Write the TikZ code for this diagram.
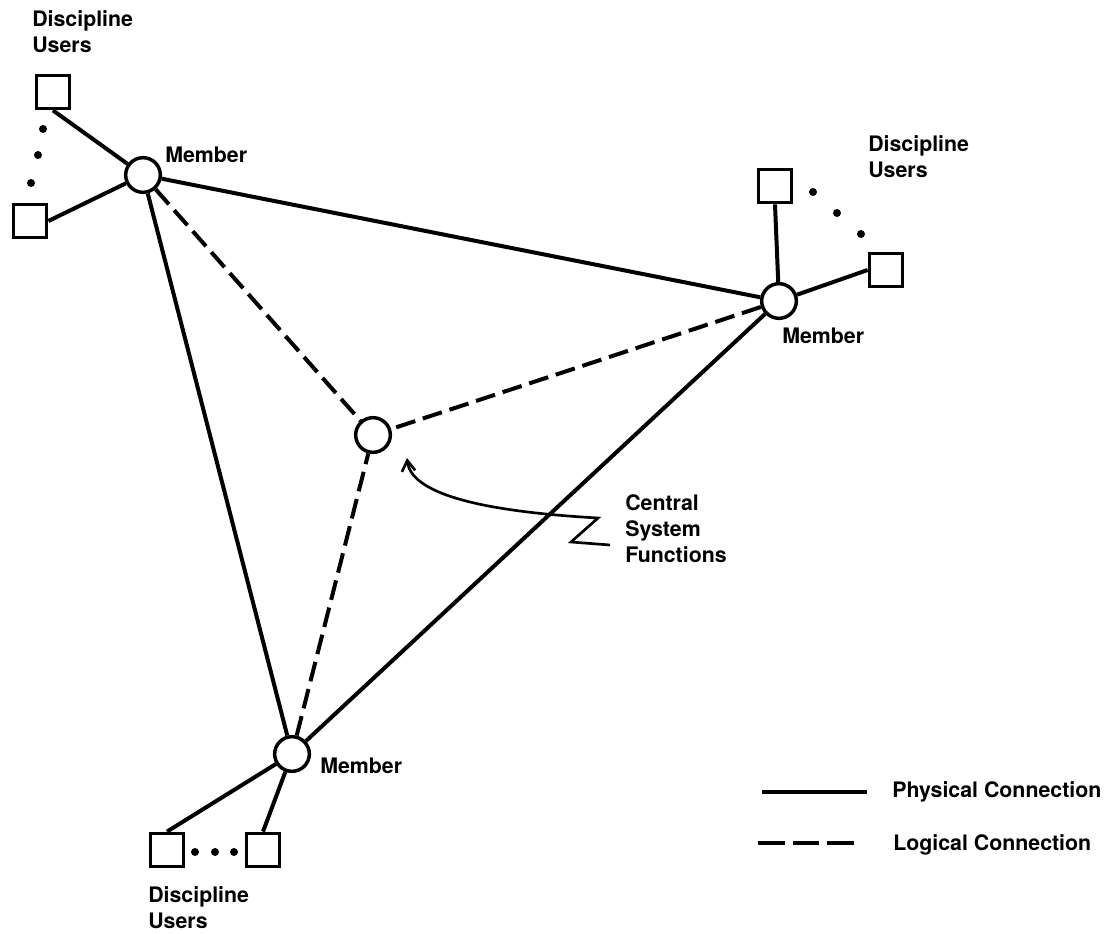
\documentclass[tikz,border=0pt]{standalone}
\usepackage{fontspec}
\setmainfont{TeX Gyre Heros}
\usetikzlibrary{arrows.meta}

\begin{document}
\begin{tikzpicture}[
  x=0.75pt, y=-0.75pt,
  member/.style={circle, draw=black, line width=2.6pt, fill=white, minimum size=26pt, inner sep=0pt},
  user/.style={rectangle, draw=black, line width=2.6pt, fill=white, minimum size=25pt, inner sep=0pt},
  physical/.style={draw=black, line width=3pt},
  logical/.style={draw=black, line width=3pt, dash pattern=on 15pt off 6pt},
  legend dash/.style={draw=black, line width=3pt, dash pattern=on 20pt off 6pt},
  lbl/.style={font=\bfseries\fontsize{16}{19.5}\selectfont, align=left, anchor=base west, inner sep=0pt},
  callout/.style={draw=black, line width=2pt, -{Straight Barb[length=8pt,width=10pt]}}
]

\useasboundingbox (0,0) rectangle (1113,934);

%% MEMBERS
\node[member] (mem_tl) at (143,175) {};
\node[member] (mem_r) at (779,301) {};
\node[member] (mem_b) at (292,754) {};
\node[member] (central) at (373,435) {};

\node[lbl] (mem_tl_lbl) at (165,163) {Member};
\node[lbl] (mem_r_lbl) at (782,343) {Member};
\node[lbl] (mem_b_lbl) at (320,773) {Member};

%% DISCIPLINE USERS
% top left
\node[user] (usr_tl1) at (53,92) {};
\node[user] (usr_tl2) at (30,221) {};
\node[lbl] (usr_tl_lbl) at (32,53) {Discipline\\Users};
\foreach \p in {(43,129),(38,155),(31,183)}
  \fill \p circle (3pt);

% right
\node[user] (usr_r1) at (775,186) {};
\node[user] (usr_r2) at (886,270) {};
\node[lbl] (usr_r_lbl) at (868,178) {Discipline\\Users};
\foreach \p in {(813,192),(837,213),(861,234)}
  \fill \p circle (3pt);

% bottom
\node[user] (usr_b1) at (167,850) {};
\node[user] (usr_b2) at (263,850) {};
\node[lbl] (usr_b_lbl) at (148,928) {Discipline\\Users};
\foreach \p in {(195,852),(215,852),(234,852)}
  \fill \p circle (3pt);

%% PHYSICAL CONNECTIONS
\draw[physical] (usr_tl1.south) -- (mem_tl);
\draw[physical] (usr_tl2.east) -- (mem_tl);
\draw[physical] (usr_r1.south) -- (mem_r);
\draw[physical] (usr_r2.west) -- (mem_r);
\draw[physical] (usr_b1.north) -- (mem_b);
\draw[physical] (usr_b2.north) -- (mem_b);

\draw[physical] (mem_tl) -- (mem_r);
\draw[physical] (mem_tl) -- (mem_b);
\draw[physical] (mem_r) -- (mem_b);

%% LOGICAL CONNECTIONS
\draw[logical] (mem_tl) -- (central);
\draw[logical] (mem_r) -- (central);
\draw[logical] (mem_b) -- (central);

%% CENTRAL SYSTEM FUNCTIONS
\node[lbl] (csf_lbl) at (625,562) {Central\\System\\Functions};
\coordinate (csf_start) at (610,545);
\coordinate (csf_z1) at (571,542);
\coordinate (csf_z2) at (598,518);
\coordinate (csf_tip) at (407,458);
\draw[callout] (csf_start) -- (csf_z1) -- (csf_z2)
  .. controls (510,513) and (412,500) .. (csf_tip);

%% LEGEND
\coordinate (leg_p1) at (762,792);
\coordinate (leg_p2) at (867,792);
\coordinate (leg_l1) at (758,843);
\coordinate (leg_l2) at (856,843);
\draw[physical] (leg_p1) -- (leg_p2);
\draw[legend dash] (leg_l1) -- (leg_l2);
\node[lbl] (leg_p_lbl) at (892,797) {Physical Connection};
\node[lbl] (leg_l_lbl) at (893,850) {Logical Connection};

\end{tikzpicture}
\end{document}
